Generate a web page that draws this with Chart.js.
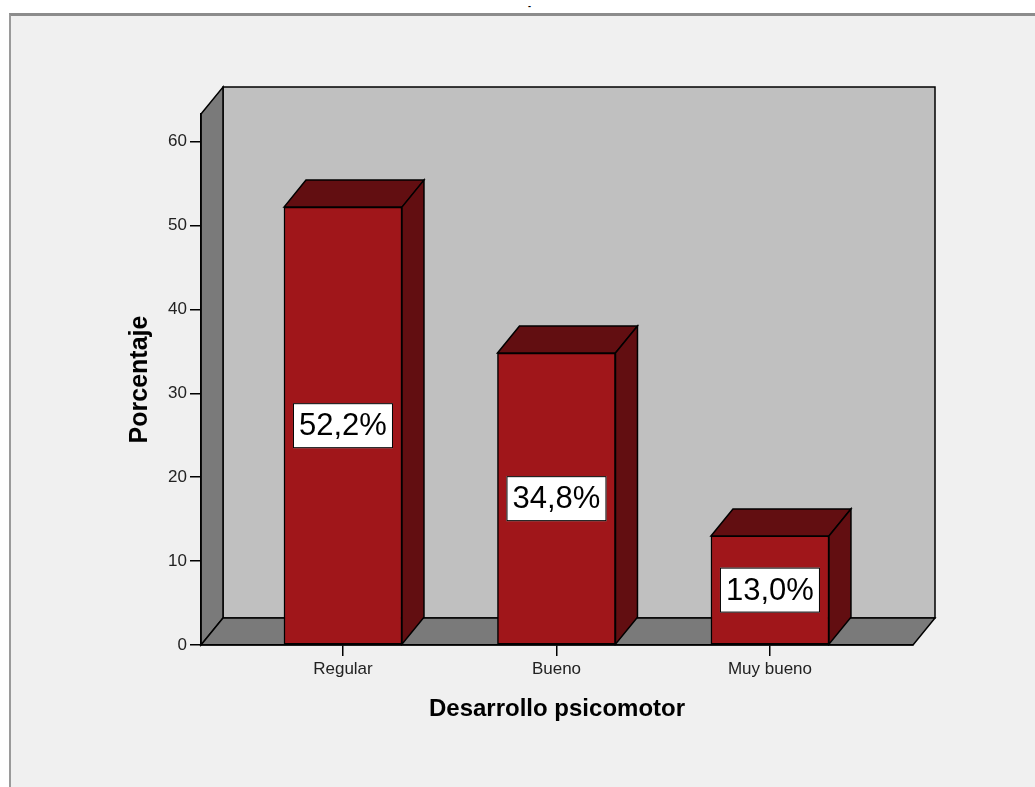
<!DOCTYPE html>
<html lang="es">
<head>
<meta charset="utf-8">
<title>Desarrollo psicomotor</title>
<script src="https://cdn.jsdelivr.net/npm/chart.js@4.4.1/dist/chart.umd.min.js"></script>
<style>
    html, body { margin: 0; padding: 0; background: #ffffff; width: 1035px; height: 787px; overflow: hidden; }
    #frame {
        position: absolute; left: 9px; top: 13px; right: 0; bottom: 0;
        background: #f0f0f0;
        border-top: 3px solid #8c8c8c;
        border-left: 2px solid #9a9a9a;
    }
    #mark { position: absolute; left: 528px; top: 1px; font: bold 9px "Liberation Sans", Arial, sans-serif; color: #000; }
    #chart { position: absolute; left: 0; top: 0; }
</style>
</head>
<body>
<div id="frame"></div>
<span id="mark">-</span>
<canvas id="chart" width="1035" height="787"></canvas>
<script>
// ---------------------------------------------------------------------------
// Data
// ---------------------------------------------------------------------------
const categories = ["Regular", "Bueno", "Muy bueno"];
const percentages = [52.2, 34.8, 13.0];
const valueLabels = ["52,2%", "34,8%", "13,0%"];
const yTicks = [0, 10, 20, 30, 40, 50, 60];

// ---------------------------------------------------------------------------
// Look
// ---------------------------------------------------------------------------
const FONT = '"Liberation Sans", Arial, sans-serif';
const DEPTH_X = 22;
const DEPTH_Y = 27;
const BAR_FRONT = "#a0161a";
const BAR_SHADE = "#620e11";
const WALL_BACK = "#c0c0c0";
const WALL_SIDE = "#7a7a7a";

function poly(ctx, pts, fill) {
    ctx.beginPath();
    ctx.moveTo(pts[0][0], pts[0][1]);
    for (let i = 1; i < pts.length; i++) ctx.lineTo(pts[i][0], pts[i][1]);
    ctx.closePath();
    ctx.fillStyle = fill;
    ctx.fill();
    ctx.stroke();
}

// back wall, left wall and floor of the 3D box, from the scales
const boxPlugin = {
    id: "box3d",
    beforeDraw(chart) {
        const { ctx } = chart;
        const x = chart.scales.x, y = chart.scales.y;
        const left = x.left, right = x.right;
        const top = y.top, floor = y.getPixelForValue(0);
        ctx.save();
        ctx.strokeStyle = "#000";
        ctx.lineWidth = 1.5;
        ctx.lineJoin = "miter";
        poly(ctx, [[left + DEPTH_X, top - DEPTH_Y], [right + DEPTH_X, top - DEPTH_Y],
                   [right + DEPTH_X, floor - DEPTH_Y], [left + DEPTH_X, floor - DEPTH_Y]], WALL_BACK);
        poly(ctx, [[left, top], [left + DEPTH_X, top - DEPTH_Y],
                   [left + DEPTH_X, floor - DEPTH_Y], [left, floor]], WALL_SIDE);
        poly(ctx, [[left, floor], [left + DEPTH_X, floor - DEPTH_Y],
                   [right + DEPTH_X, floor - DEPTH_Y], [right, floor]], WALL_SIDE);
        ctx.restore();
    },
};

// top and side faces of each bar, then the value boxes
const barPlugin = {
    id: "bar3d",
    afterDatasetsDraw(chart) {
        const { ctx } = chart;
        const bars = chart.getDatasetMeta(0).data;
        ctx.save();
        ctx.strokeStyle = "#000";
        ctx.lineWidth = 1.5;
        bars.forEach((bar, i) => {
            const { x, y, base, width } = bar.getProps(["x", "y", "base", "width"], true);
            const l = x - width / 2, r = x + width / 2;
            poly(ctx, [[l, y], [l + DEPTH_X, y - DEPTH_Y], [r + DEPTH_X, y - DEPTH_Y], [r, y]], BAR_SHADE);
            poly(ctx, [[r, y], [r + DEPTH_X, y - DEPTH_Y], [r + DEPTH_X, base - DEPTH_Y], [r, base]], BAR_SHADE);

            // value label
            const cy = (y + base) / 2;
            const bw = 100, bh = 45;
            ctx.fillStyle = "#ffffff";
            ctx.lineWidth = 1;
            ctx.fillRect(x - bw / 2, cy - bh / 2, bw, bh);
            ctx.strokeRect(x - bw / 2 + 0.5, cy - bh / 2 + 0.5, bw - 1, bh - 1);
            ctx.lineWidth = 1.5;
            ctx.fillStyle = "#000";
            ctx.font = `31px ${FONT}`;
            ctx.textAlign = "center";
            ctx.textBaseline = "middle";
            ctx.fillText(valueLabels[i], x, cy + 1);
        });
        ctx.restore();
    },
};

// ---------------------------------------------------------------------------
// Chart
// ---------------------------------------------------------------------------
new Chart(document.getElementById("chart"), {
    type: "bar",
    data: {
        datasets: [{
            data: percentages.map((v, i) => ({ x: i, y: v })),
            backgroundColor: BAR_FRONT,
            borderColor: "#000",
            borderWidth: 1.5,
            borderSkipped: false,
            barThickness: 118,
        }],
    },
    options: {
        responsive: false,
        animation: false,
        layout: { padding: { left: 120, right: 122, top: 114, bottom: 50 } },
        plugins: { legend: { display: false }, tooltip: { enabled: false } },
        scales: {
            x: {
                type: "linear",
                offset: false,
                min: -0.665,
                max: 2.67,
                afterBuildTicks: (scale) => { scale.ticks = categories.map((_, i) => ({ value: i })); },
                afterFit: (scale) => { scale.height = 92; },
                ticks: {
                    callback: (v) => categories[v],
                    color: "#222",
                    font: { family: FONT, size: 17 },
                    padding: 3,
                    maxRotation: 0,
                },
                grid: { display: true, offset: false, drawOnChartArea: false, drawTicks: true, tickLength: 11, color: "#000", lineWidth: 1.5 },
                border: { display: true, color: "#000", width: 1.5 },
                title: {
                    display: true,
                    text: "Desarrollo psicomotor",
                    color: "#000",
                    font: { family: FONT, size: 24, weight: "bold" },
                    padding: { top: 0, bottom: 13 },
                },
            },
            y: {
                min: 0,
                max: 63.3,
                afterBuildTicks: (scale) => { scale.ticks = yTicks.map(v => ({ value: v })); },
                afterFit: (scale) => { scale.width = 81; },
                ticks: {
                    color: "#222",
                    font: { family: FONT, size: 17 },
                    padding: 3,
                },
                grid: { display: true, drawOnChartArea: false, drawTicks: true, tickLength: 11, color: "#000", lineWidth: 1.5 },
                border: { display: true, color: "#000", width: 1.5 },
                title: {
                    display: true,
                    text: "Porcentaje",
                    color: "#000",
                    font: { family: FONT, size: 25, weight: "bold" },
                    padding: { top: 5, bottom: 0 },
                },
            },
        },
    },
    plugins: [boxPlugin, barPlugin],
});
</script>
</body>
</html>
